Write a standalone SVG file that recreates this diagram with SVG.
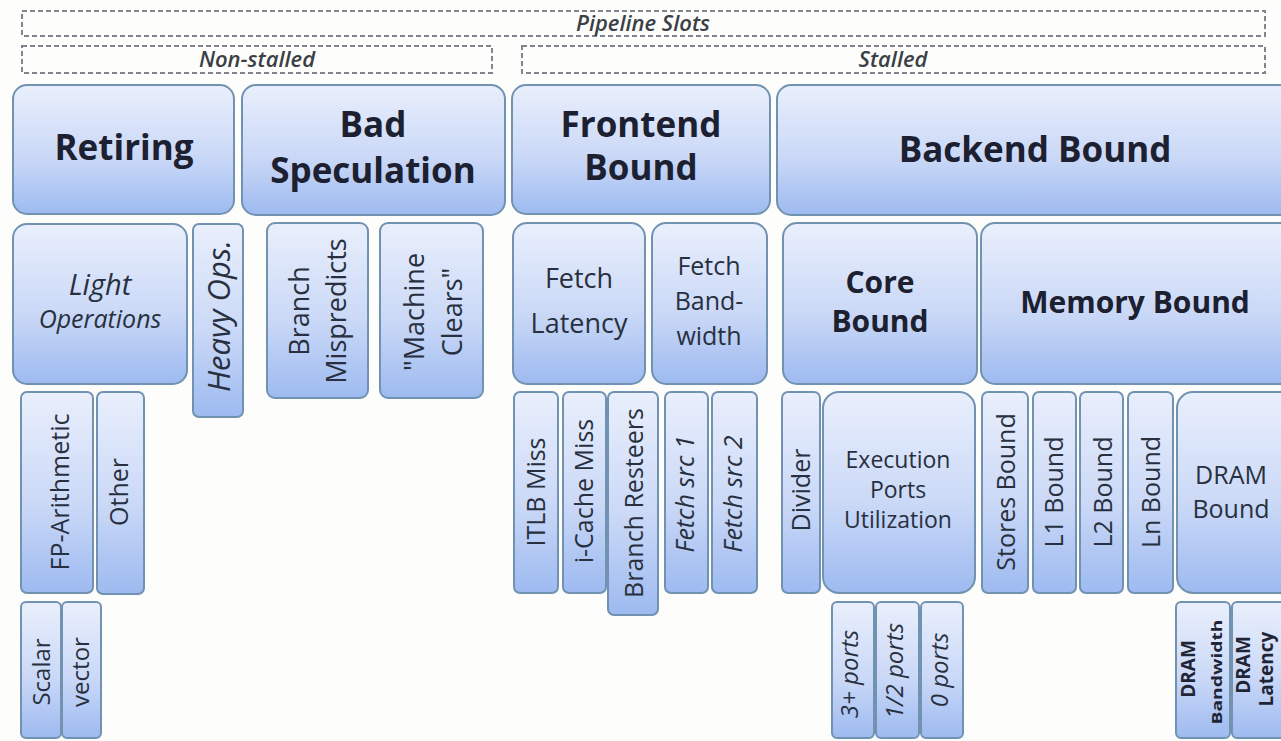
<svg xmlns="http://www.w3.org/2000/svg" width="1281" height="741" viewBox="0 0 1281 741">
  <defs>
    <linearGradient id="fillBlue" x1="0" y1="0" x2="0" y2="1">
      <stop offset="0" stop-color="#e9effc"/>
      <stop offset="0.55" stop-color="#cbd9f7"/>
      <stop offset="1" stop-color="#9dbaf0"/>
    </linearGradient>
    <style>
      .box { fill: url(#fillBlue); stroke: #7193b1; stroke-width: 2; }
      .dash { fill: #fdfdfb; stroke: #7f858c; stroke-width: 2; stroke-dasharray: 5 3; }
      .t { font-family: "Open Sans", "Noto Sans", "Liberation Sans", sans-serif; text-anchor: middle; fill: #283040; }
      .lbl { font-size: 22px; font-weight: 600; font-style: italic; fill: #3b3f46; }
      .h1 { font-size: 35px; font-weight: 700; fill: #1c2030; }
      .h2 { font-size: 30px; font-weight: 700; fill: #1c2030; }
      .m { font-size: 27px; }
      .s { font-size: 25px; }
      .xs { font-size: 24px; }
      .it { font-style: italic; }
      .b { font-weight: 700; fill: #1f2536; }
    </style>
  </defs>

  <rect x="0" y="0" width="1281" height="741" fill="#fdfdfb"/>

  <!-- slot classification bands -->
  <g id="pipeline-slots">
    <rect class="dash" x="22" y="11" width="1243" height="25"/>
    <text class="t lbl" x="643" y="31">Pipeline Slots</text>
  </g>
  <g id="non-stalled">
    <rect class="dash" x="22" y="46" width="470" height="27"/>
    <text class="t lbl" x="257" y="67">Non-stalled</text>
  </g>
  <g id="stalled">
    <rect class="dash" x="522" y="46" width="743" height="27"/>
    <text class="t lbl" x="893" y="67">Stalled</text>
  </g>

  <!-- level 1 -->
  <g id="retiring">
    <rect class="box" x="13" y="85" width="221" height="129" rx="14"/>
    <text class="t h1" x="124" y="160">Retiring</text>
  </g>
  <g id="bad-speculation">
    <rect class="box" x="242" y="85" width="263" height="130" rx="14"/>
    <text class="t h1" x="373" y="137">Bad</text>
    <text class="t h1" x="373" y="183">Speculation</text>
  </g>
  <g id="frontend-bound">
    <rect class="box" x="512" y="85" width="258" height="129" rx="14"/>
    <text class="t h1" x="641" y="137">Frontend</text>
    <text class="t h1" x="641" y="180">Bound</text>
  </g>
  <g id="backend-bound">
    <rect class="box" x="777" y="85" width="520" height="130" rx="14"/>
    <text class="t h1" x="1035" y="162">Backend Bound</text>
  </g>

  <!-- level 2 -->
  <g id="light-operations">
    <rect class="box" x="13" y="224" width="174" height="160" rx="14"/>
    <text class="t it" x="100" y="295" font-size="29">Light</text>
    <text class="t it" x="100" y="328" font-size="25">Operations</text>
  </g>
  <g id="heavy-ops">
    <rect class="box" x="193" y="224" width="50" height="193" rx="6"/>
    <g transform="translate(0,316) rotate(-90)">
      <text class="t it" x="0" y="230" font-size="31">Heavy Ops.</text>
    </g>
  </g>
  <g id="branch-mispredicts">
    <rect class="box" x="267" y="223" width="101" height="175" rx="8"/>
    <g transform="translate(0,311) rotate(-90)">
      <text class="t m" x="0" y="309">Branch</text>
      <text class="t m" x="0" y="346">Mispredicts</text>
    </g>
  </g>
  <g id="machine-clears">
    <rect class="box" x="380" y="223" width="103" height="175" rx="8"/>
    <g transform="translate(0,312) rotate(-90)">
      <text class="t m" x="0" y="424">"Machine</text>
      <text class="t m" x="0" y="462">Clears"</text>
    </g>
  </g>
  <g id="fetch-latency">
    <rect class="box" x="513" y="223" width="132" height="161" rx="14"/>
    <text class="t m" x="579" y="288">Fetch</text>
    <text class="t m" x="579" y="333">Latency</text>
  </g>
  <g id="fetch-bandwidth">
    <rect class="box" x="652" y="223" width="115" height="161" rx="14"/>
    <text class="t" x="709" y="275" font-size="25">Fetch</text>
    <text class="t" x="709" y="310" font-size="25">Band-</text>
    <text class="t" x="709" y="345" font-size="25">width</text>
  </g>
  <g id="core-bound">
    <rect class="box" x="783" y="223" width="194" height="161" rx="14"/>
    <text class="t h2" x="880" y="293">Core</text>
    <text class="t h2" x="880" y="332">Bound</text>
  </g>
  <g id="memory-bound">
    <rect class="box" x="981" y="223" width="320" height="161" rx="14"/>
    <text class="t h2" x="1135" y="313">Memory Bound</text>
  </g>

  <!-- level 3 -->
  <g id="fp-arithmetic">
    <rect class="box" x="21" y="392" width="72" height="201" rx="6"/>
    <g transform="translate(0,492) rotate(-90)"><text class="t s" x="0" y="69">FP-Arithmetic</text></g>
  </g>
  <g id="other">
    <rect class="box" x="97" y="392" width="47" height="202" rx="6"/>
    <g transform="translate(0,492) rotate(-90)"><text class="t s" x="0" y="128">Other</text></g>
  </g>
  <g id="itlb-miss">
    <rect class="box" x="514" y="392" width="44" height="201" rx="6"/>
    <g transform="translate(0,492) rotate(-90)"><text class="t s" x="0" y="545">ITLB Miss</text></g>
  </g>
  <g id="icache-miss">
    <rect class="box" x="563" y="392" width="43" height="201" rx="6"/>
    <g transform="translate(0,491) rotate(-90)"><text class="t s" x="0" y="593">i-Cache Miss</text></g>
  </g>
  <g id="branch-resteers">
    <rect class="box" x="608" y="392" width="50" height="223" rx="6"/>
    <g transform="translate(0,503) rotate(-90)"><text class="t s" x="0" y="643">Branch Resteers</text></g>
  </g>
  <g id="fetch-src-1">
    <rect class="box" x="665" y="392" width="43" height="201" rx="6"/>
    <g transform="translate(0,494) rotate(-90)"><text class="t s it" x="0" y="694">Fetch src 1</text></g>
  </g>
  <g id="fetch-src-2">
    <rect class="box" x="712" y="392" width="45" height="201" rx="6"/>
    <g transform="translate(0,494) rotate(-90)"><text class="t s it" x="0" y="742">Fetch src 2</text></g>
  </g>
  <g id="divider">
    <rect class="box" x="782" y="392" width="38" height="201" rx="6"/>
    <g transform="translate(0,490) rotate(-90)"><text class="t s" x="0" y="810">Divider</text></g>
  </g>
  <g id="execution-ports-utilization">
    <rect class="box" x="823" y="392" width="152" height="201" rx="16"/>
    <text class="t" x="898" y="468" font-size="23">Execution</text>
    <text class="t" x="898" y="498" font-size="23">Ports</text>
    <text class="t" x="898" y="528" font-size="23">Utilization</text>
  </g>
  <g id="stores-bound">
    <rect class="box" x="982" y="392" width="46" height="201" rx="6"/>
    <g transform="translate(0,492) rotate(-90)"><text class="t s" x="0" y="1015">Stores Bound</text></g>
  </g>
  <g id="l1-bound">
    <rect class="box" x="1033" y="392" width="43" height="201" rx="6"/>
    <g transform="translate(0,492) rotate(-90)"><text class="t s" x="0" y="1063">L1 Bound</text></g>
  </g>
  <g id="l2-bound">
    <rect class="box" x="1080" y="392" width="43" height="201" rx="6"/>
    <g transform="translate(0,492) rotate(-90)"><text class="t s" x="0" y="1112">L2 Bound</text></g>
  </g>
  <g id="ln-bound">
    <rect class="box" x="1128" y="392" width="45" height="201" rx="6"/>
    <g transform="translate(0,492) rotate(-90)"><text class="t s" x="0" y="1160">Ln Bound</text></g>
  </g>
  <g id="dram-bound">
    <rect class="box" x="1177" y="392" width="120" height="201" rx="16"/>
    <text class="t" x="1231" y="484" font-size="25">DRAM</text>
    <text class="t" x="1231" y="518" font-size="25">Bound</text>
  </g>

  <!-- level 4 -->
  <g id="scalar">
    <rect class="box" x="21" y="602" width="40" height="136" rx="5"/>
    <g transform="translate(0,672) rotate(-90)"><text class="t xs" x="0" y="50">Scalar</text></g>
  </g>
  <g id="vector">
    <rect class="box" x="62" y="602" width="39" height="136" rx="5"/>
    <g transform="translate(0,672) rotate(-90)"><text class="t xs" x="0" y="89">vector</text></g>
  </g>
  <g id="ports-3plus">
    <rect class="box" x="832" y="602" width="42" height="136" rx="5"/>
    <g transform="translate(0,674) rotate(-90)"><text class="t xs it" x="0" y="858">3+ ports</text></g>
  </g>
  <g id="ports-1-2">
    <rect class="box" x="876" y="602" width="43" height="136" rx="5"/>
    <g transform="translate(0,671) rotate(-90)"><text class="t xs it" x="0" y="903">1/2 ports</text></g>
  </g>
  <g id="ports-0">
    <rect class="box" x="921" y="602" width="42" height="136" rx="5"/>
    <g transform="translate(0,670) rotate(-90)"><text class="t xs it" x="0" y="948">0 ports</text></g>
  </g>
  <g id="dram-bandwidth">
    <rect class="box" x="1176" y="602" width="54" height="136" rx="5"/>
    <g transform="translate(0,669) rotate(-90)">
      <text class="t b" x="0" y="1195" font-size="19">DRAM</text>
    </g>
    <g transform="translate(0,672) rotate(-90)">
      <text class="t b" x="0" y="1222" font-size="15" textLength="105" lengthAdjust="spacingAndGlyphs">Bandwidth</text>
    </g>
  </g>
  <g id="dram-latency">
    <rect class="box" x="1232" y="602" width="70" height="136" rx="5"/>
    <g transform="translate(0,665) rotate(-90)">
      <text class="t b" x="0" y="1250" font-size="19">DRAM</text>
    </g>
    <g transform="translate(0,669) rotate(-90)">
      <text class="t b" x="0" y="1273" font-size="19">Latency</text>
    </g>
  </g>

  <!-- the hierarchy is shown by nesting; there are no connector lines -->
  <g id="connectors"/>
</svg>
